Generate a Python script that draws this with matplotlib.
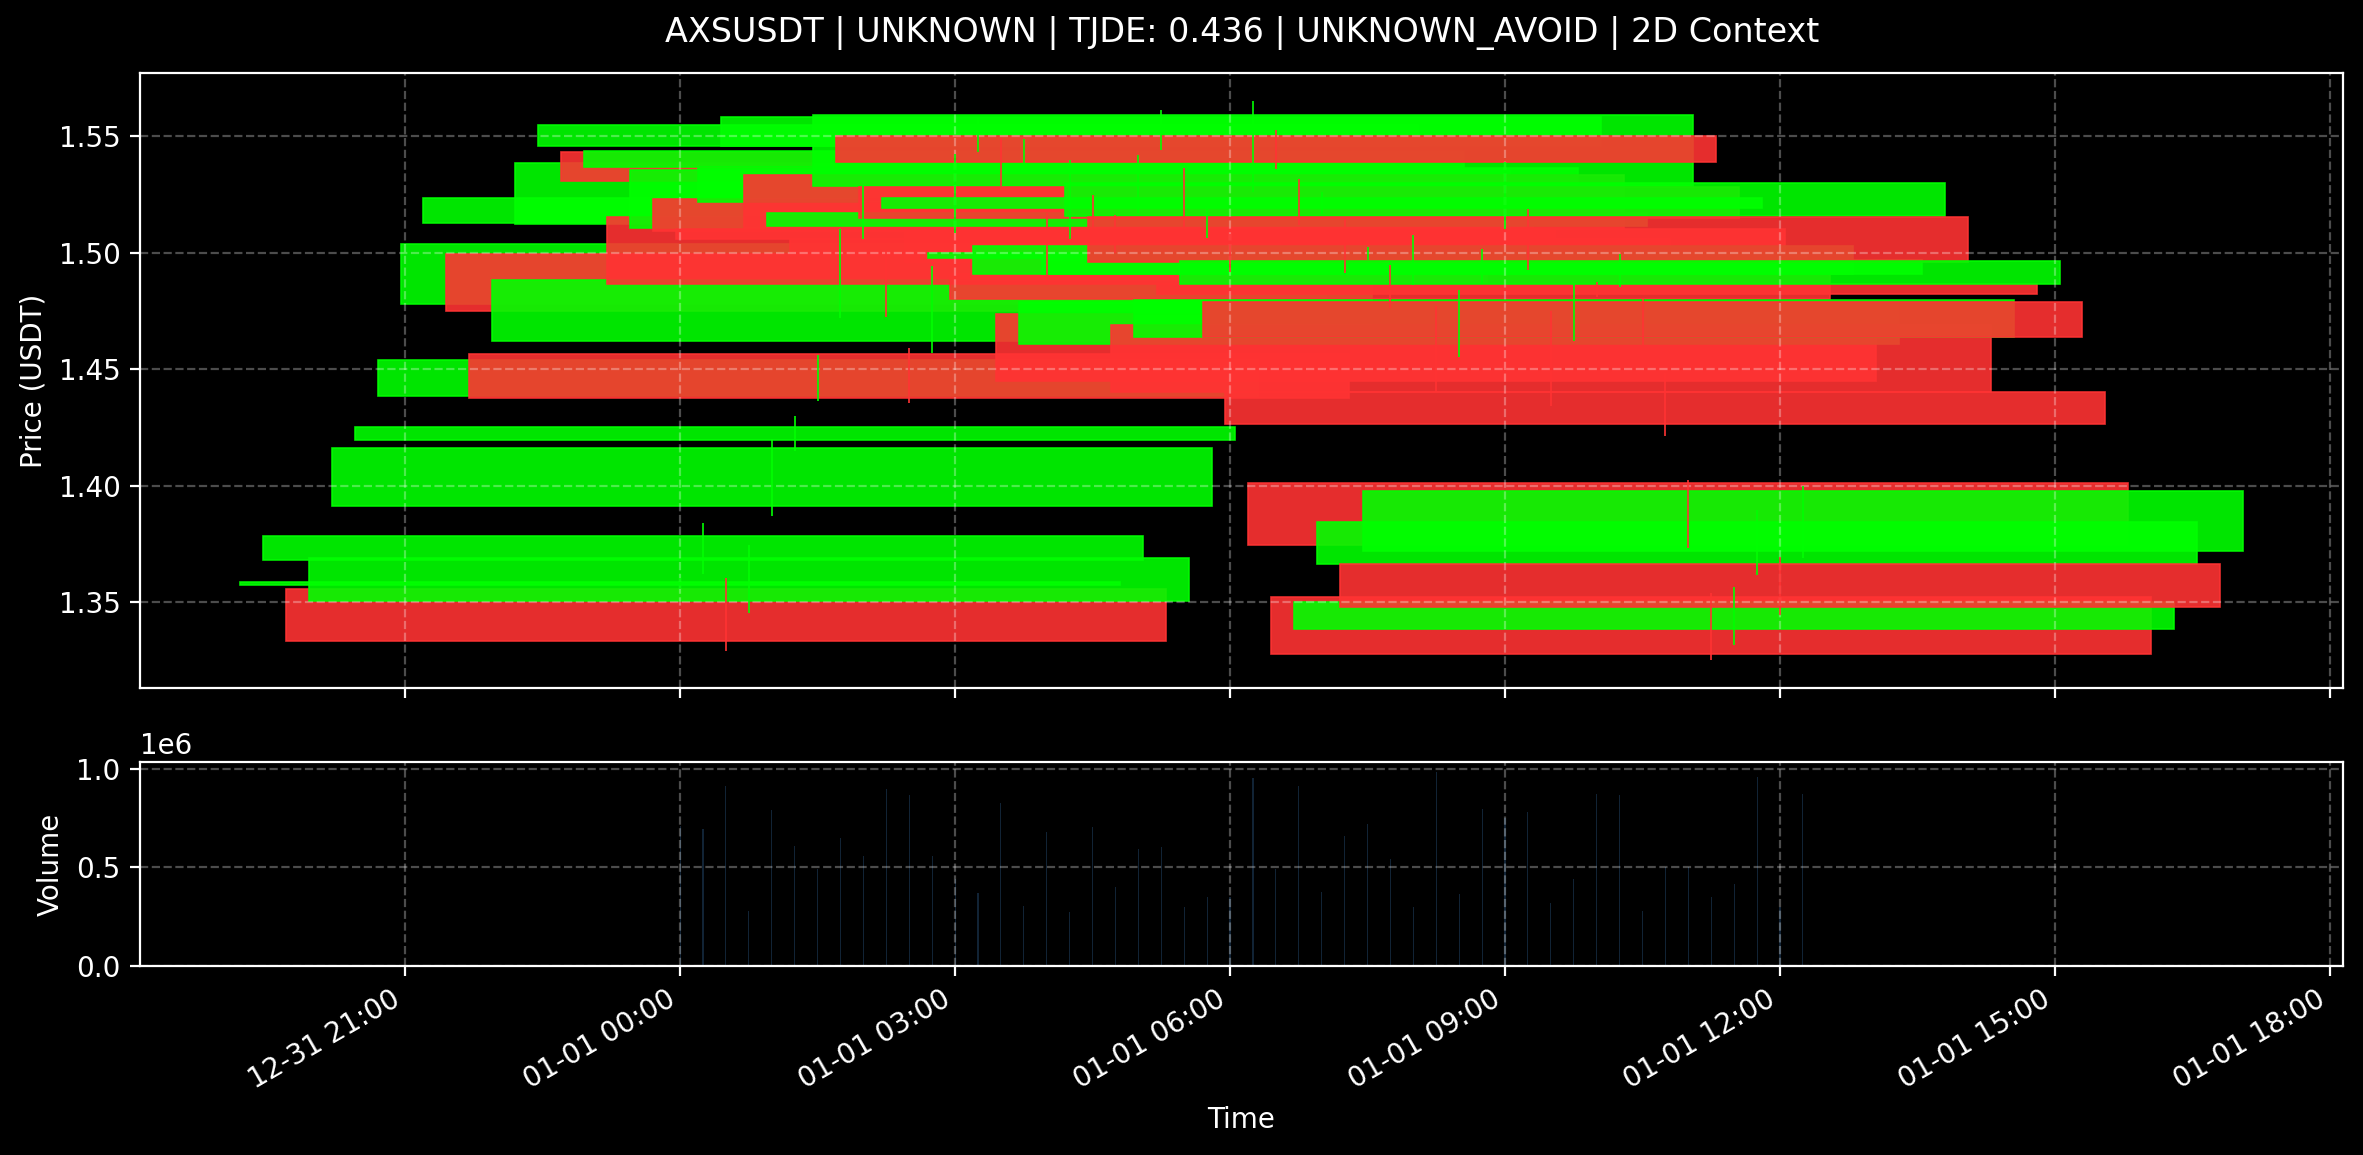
import numpy as np
import pandas as pd
import matplotlib
matplotlib.use('Agg')
from matplotlib import pyplot as plt
import matplotlib.dates as mdates

# 15 minute candles
times = pd.date_range('2025-01-01 00:00', periods=50, freq='15min')

opens = [1.3572, 1.3680, 1.3556, 1.3505, 1.3914, 1.4196, 1.4383, 1.4777, 1.5127, 1.4992,
         1.4566, 1.4622, 1.5122, 1.5456, 1.5429, 1.5367, 1.5152, 1.5103, 1.5230, 1.5100,
         1.5215, 1.5456, 1.5333, 1.5115, 1.5060, 1.5284, 1.5498, 1.5282, 1.5189, 1.5100,
         1.4975, 1.4907, 1.4907, 1.4738, 1.4608, 1.4907, 1.5157, 1.5152, 1.4688, 1.4637,
         1.4865, 1.4865, 1.4789, 1.4400, 1.4012, 1.3522, 1.3384, 1.3662, 1.3666, 1.3721]
closes = [1.3588, 1.3784, 1.3333, 1.3689, 1.4160, 1.4250, 1.4537, 1.5037, 1.5233, 1.4747,
          1.4375, 1.4882, 1.5382, 1.5549, 1.5306, 1.5434, 1.4867, 1.5353, 1.5093, 1.5060,
          1.5363, 1.5583, 1.5101, 1.5169, 1.4990, 1.5591, 1.5388, 1.5147, 1.5235, 1.4960,
          1.5000, 1.4801, 1.5029, 1.4451, 1.4789, 1.4966, 1.5300, 1.4958, 1.4400, 1.4797,
          1.4823, 1.4963, 1.4637, 1.4265, 1.3747, 1.3277, 1.3502, 1.3846, 1.3480, 1.3975]
highs = [1.3605, 1.3838, 1.3606, 1.3745, 1.4198, 1.4299, 1.4561, 1.5101, 1.5287, 1.5008,
         1.4590, 1.4941, 1.5422, 1.5575, 1.5490, 1.5485, 1.5170, 1.5397, 1.5245, 1.5160,
         1.5419, 1.5612, 1.5363, 1.5185, 1.5080, 1.5650, 1.5524, 1.5316, 1.5260, 1.5152,
         1.5025, 1.4946, 1.5076, 1.4772, 1.4840, 1.5017, 1.5388, 1.5186, 1.4747, 1.4865,
         1.4873, 1.4995, 1.4806, 1.4485, 1.4025, 1.3539, 1.3564, 1.3894, 1.3696, 1.4000]
lows = [1.3555, 1.3623, 1.3289, 1.3455, 1.3868, 1.4147, 1.4363, 1.4718, 1.5059, 1.4725,
        1.4355, 1.4569, 1.5084, 1.5430, 1.5284, 1.5350, 1.4860, 1.5059, 1.5070, 1.5000,
        1.5169, 1.5439, 1.5080, 1.5063, 1.4916, 1.5260, 1.5360, 1.5118, 1.5165, 1.4910,
        1.4966, 1.4764, 1.4860, 1.4400, 1.4552, 1.4865, 1.5101, 1.4924, 1.4341, 1.4620,
        1.4809, 1.4850, 1.4603, 1.4215, 1.3733, 1.3252, 1.3316, 1.3615, 1.3446, 1.3691]
volumes = [0.710, 0.696, 0.913, 0.281, 0.791, 0.607, 0.491, 0.648, 0.556, 0.900,
           0.869, 0.558, 0.440, 0.372, 0.827, 0.306, 0.680, 0.276, 0.704, 0.400,
           0.592, 0.604, 0.298, 0.349, 0.350, 0.956, 0.491, 0.913, 0.378, 0.660,
           0.719, 0.543, 0.298, 0.986, 0.364, 0.798, 0.750, 0.782, 0.318, 0.440,
           0.874, 0.869, 0.277, 0.503, 0.500, 0.349, 0.415, 0.959, 0.300, 0.874]

title = 'AXSUSDT | UNKNOWN | TJDE: 0.436 | UNKNOWN_AVOID | 2D Context'

plt.style.use('dark_background')

W, H = 2363, 1155
fig = plt.figure(figsize=(W / 200, H / 200), dpi=200)
ax1 = fig.add_axes([140 / W, 1 - 688 / H, 2203 / W, 615 / H])
ax2 = fig.add_axes([140 / W, 1 - 966 / H, 2203 / W, 204 / H], sharex=ax1)

x = mdates.date2num(times)
o = np.array(opens)
c = np.array(closes)
colors = ['#00ff00' if cc >= oo else '#ff3333' for oo, cc in zip(o, c)]

# bodies (width is in days, hence the very wide boxes)
ax1.bar(x, np.abs(c - o), bottom=np.minimum(o, c), width=0.4,
        color=colors, edgecolor=colors, linewidth=0.6, alpha=0.9)
ax1.vlines(x, lows, highs, colors=colors, linewidth=0.6)

ax1.set_ylabel('Price (USDT)')
ax1.grid(True, linestyle='--', alpha=0.3)
ax1.tick_params(labelbottom=False)

ax2.bar(x, np.array(volumes) * 1e6, width=0.0005, color='#112335')
ax2.set_ylabel('Volume')
ax2.set_xlabel('Time')
ax2.grid(True, linestyle='--', alpha=0.3)

ax2.xaxis.set_major_locator(mdates.HourLocator(byhour=range(0, 24, 3)))
ax2.xaxis.set_major_formatter(mdates.DateFormatter('%m-%d %H:%M'))
for lbl in ax2.get_xticklabels():
    lbl.set_rotation(30)
    lbl.set_ha('right')

fig.text(1242 / W, 1 - 33 / H, title, ha='center', va='center', fontsize=12)

fig.savefig('out.png', dpi=200)
